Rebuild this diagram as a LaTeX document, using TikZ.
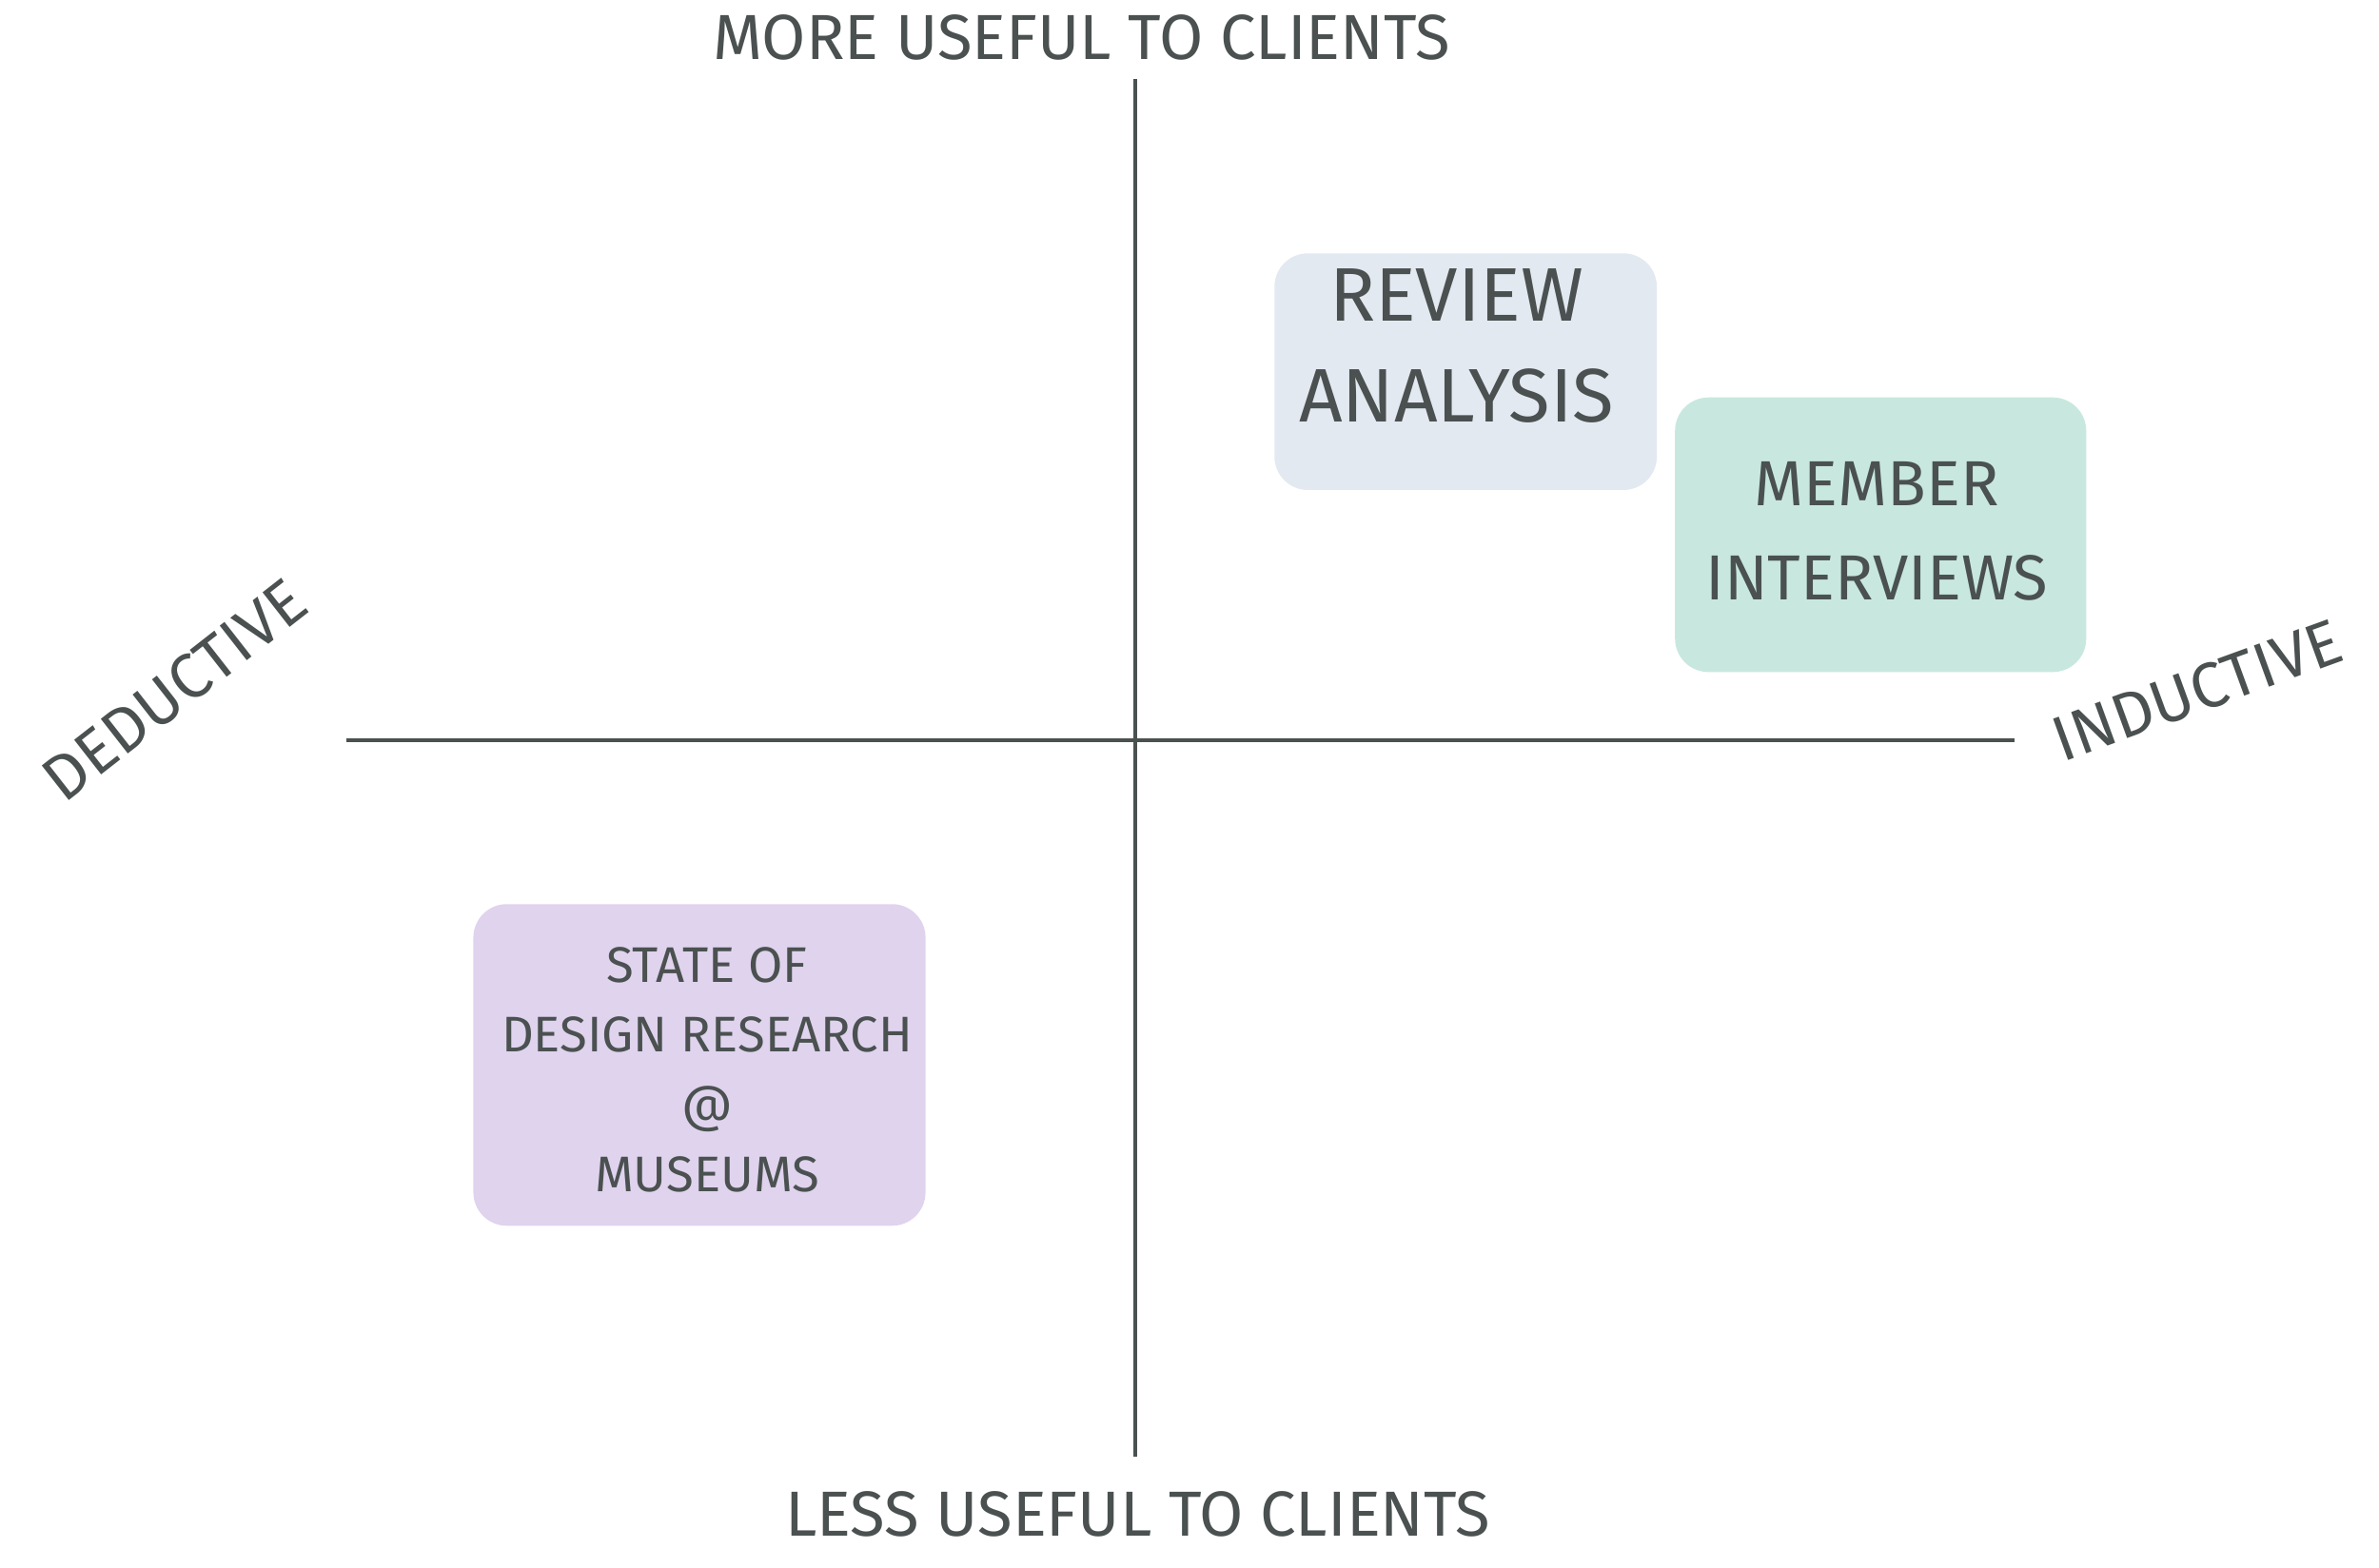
\documentclass[tikz,border=0pt]{standalone}
\usepackage{fontspec}
\setmainfont{Fira Sans}
\definecolor{ink}{HTML}{4A5150}
\definecolor{boxblue}{HTML}{E3E9F1}
\definecolor{boxgreen}{HTML}{C8E8DF}
\definecolor{boxpurple}{HTML}{E0D3EE}
\tikzset{every picture/.style={line width=2.5pt}}
\tikzset{
  axislabel/.style={text=ink,font=\fontsize{42}{46}\selectfont},
  notebox/.style={rounded corners=22pt,text=ink,align=center,inner sep=0pt}
}
\begin{document}
\begin{tikzpicture}[x=1pt,y=1pt,yscale=-1,xscale=1]
\useasboundingbox[fill=white] (0,0) rectangle (1568,1033);

% Axes
\coordinate (top) at (748,52);
\coordinate (bottom) at (748,960);
\coordinate (left) at (228,488);
\coordinate (right) at (1328,488);
\draw [ink] (top) -- (bottom);
\draw [ink] (left) -- (right);

% Boxes
\fill [boxblue,rounded corners=22pt] (840,167) rectangle (1092,323);
\fill [boxgreen,rounded corners=22pt] (1104,262) rectangle (1375,443);
\fill [boxpurple,rounded corners=22pt] (312,596) rectangle (610,808);

% Text Node
\node (review) [notebox,font=\fontsize{50}{66}\selectfont] at (960,228) {REVIEW\\ANALYSIS};
% Text Node
\node (member) [notebox,font=\fontsize{42}{62}\selectfont] at (1237,350) {MEMBER\\INTERVIEWS};
% Text Node
\node (state) [notebox,font=\fontsize{33}{46}\selectfont] at (466,705) {STATE OF\\DESIGN RESEARCH\\@\\MUSEUMS};

% Axis labels
\node (more) [axislabel] at (713,25) {MORE USEFUL TO CLIENTS};
\node (less) [axislabel] at (750,998) {LESS USEFUL TO CLIENTS};
\node (deductive) [axislabel,rotate=38] at (115,455) {DEDUCTIVE};
\node (inductive) [axislabel,rotate=20] at (1448,455) {INDUCTIVE};

\end{tikzpicture}
\end{document}
